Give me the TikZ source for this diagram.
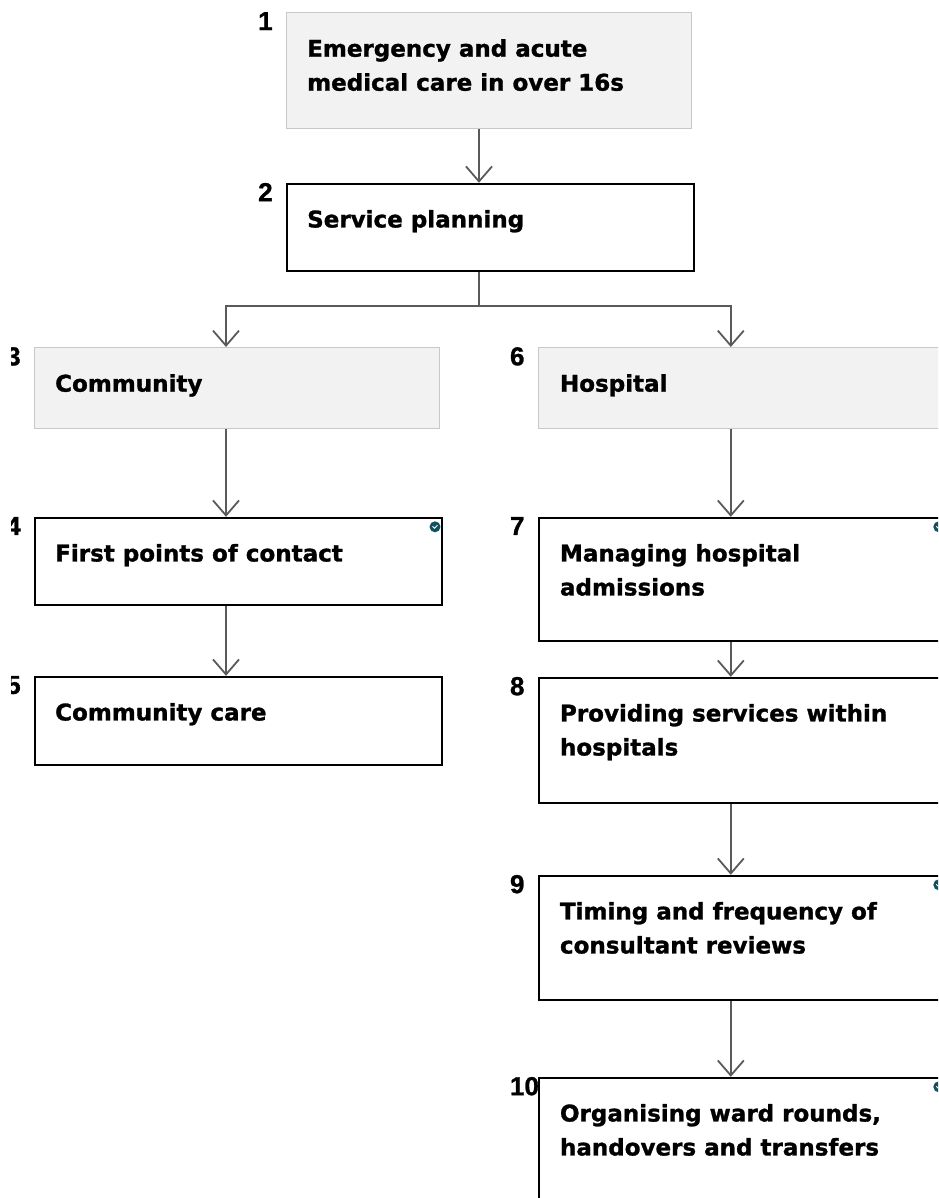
\documentclass[tikz,border=0pt]{standalone}
\usepackage{fontspec}
\setmainfont{DejaVu Sans}[BoldFeatures={FakeBold=1.2}]
\newfontfamily\numfont{Liberation Sans}[BoldFeatures={FakeBold=1}]
\usetikzlibrary{arrows.meta,positioning}

\definecolor{boxgrey}{HTML}{F2F2F2}
\definecolor{edgegrey}{HTML}{C8C8C8}
\definecolor{arrgrey}{HTML}{5A5A5A}
\definecolor{pincol}{HTML}{0E5160}

\begin{document}
\begin{tikzpicture}[x=1pt, y=1pt, font=\fontsize{23}{34}\selectfont\bfseries, >={Straight Barb[length=15pt,width=26pt]}]
\tikzset{
  box/.style    ={rectangle, draw=black, line width=2pt, fill=white, minimum width=407pt, inner sep=0pt},
  headbox/.style={rectangle, draw=edgegrey, line width=0.8pt, fill=boxgrey, minimum width=405pt, inner sep=0pt},
  txt/.style    ={align=left, inner sep=0pt},
  num/.style    ={inner sep=0pt, font=\numfont\fontsize{26}{30}\selectfont\bfseries},
  conn/.style   ={draw=arrgrey, line width=1.8pt},
  pindot/.style ={circle, fill=pincol, minimum size=11pt, inner sep=0pt,
                  path picture={\draw[white, line width=0.8pt] ([shift={(-2.5,0.5)}]path picture bounding box.center) -- ++(2,-2) -- ++(3,3);}}
}
\useasboundingbox (0,0) rectangle (938,-1198);
\clip (11,0) rectangle (938,-1198);

% boxes
\node[headbox, minimum height=116pt, anchor=north west] (b1) at (286,-12) {};
\node[box, minimum height=87pt, below=54pt of b1.south west, anchor=north west] (b2) {};
\node[headbox, minimum height=81pt, anchor=north west] (b3) at (34,-347) {};
\node[headbox, minimum height=81pt, right=98pt of b3.north east, anchor=north west] (b6) {};
\node[box, minimum height=87pt, below=88pt of b3.south west, anchor=north west] (b4) {};
\node[box, minimum height=88pt, below=70pt of b4.south west, anchor=north west] (b5) {};
\node[box, minimum height=123pt, below=88pt of b6.south west, anchor=north west] (b7) {};
\node[box, minimum height=125pt, below=35pt of b7.south west, anchor=north west] (b8) {};
\node[box, minimum height=124pt, below=71pt of b8.south west, anchor=north west] (b9) {};
\node[box, minimum height=124pt, below=76pt of b9.south west, anchor=north west] (b10) {};

% texts
\node[txt, below right=27pt and 21pt of b1.north west] (t1) {Emergency and acute\\medical care in over 16s};
\node[txt, below right=27pt and 21pt of b2.north west] (t2) {Service planning};
\node[txt, below right=27pt and 21pt of b3.north west] (t3) {Community};
\node[txt, below right=27pt and 21pt of b4.north west] (t4) {First points of contact};
\node[txt, below right=27pt and 21pt of b5.north west] (t5) {Community care};
\node[txt, below right=27pt and 22pt of b6.north west] (t6) {Hospital};
\node[txt, below right=27pt and 22pt of b7.north west] (t7) {Managing hospital\\admissions};
\node[txt, below right=27pt and 22pt of b8.north west] (t8) {Providing services within\\hospitals};
\node[txt, below right=27pt and 22pt of b9.north west] (t9) {Timing and frequency of\\consultant reviews};
\node[txt, below right=27pt and 22pt of b10.north west] (t10) {Organising ward rounds,\\handovers and transfers};

% numbers
\node[num, left=28pt of b1.north west, anchor=north west] (n1) {1};
\node[num, left=28pt of b2.north west, anchor=north west] (n2) {2};
\node[num, left=28pt of b3.north west, anchor=north west] (n3) {3};
\node[num, left=28pt of b4.north west, anchor=north west] (n4) {4};
\node[num, left=28pt of b5.north west, anchor=north west] (n5) {5};
\node[num, left=28pt of b6.north west, anchor=north west] (n6) {6};
\node[num, left=28pt of b7.north west, anchor=north west] (n7) {7};
\node[num, left=28pt of b8.north west, anchor=north west] (n8) {8};
\node[num, left=28pt of b9.north west, anchor=north west] (n9) {9};
\node[num, left=28pt of b10.north west, anchor=north west] (n10) {10};

% pins
\node[pindot] (p4) at ([xshift=-8pt,yshift=-10pt]b4.north east) {};
\node[pindot] (p7) at ([xshift=-8pt,yshift=-10pt]b7.north east) {};
\node[pindot] (p9) at ([xshift=-8pt,yshift=-10pt]b9.north east) {};
\node[pindot] (p10) at ([xshift=-8pt,yshift=-10pt]b10.north east) {};

% connectors
\coordinate (split) at ([xshift=193pt,yshift=-34pt]b2.south west);
\draw[conn,->] ([xshift=193pt]b1.south west) -- ([xshift=193pt]b2.north west);
\draw[conn] ([xshift=193pt]b2.south west) -- (split);
\draw[conn,->] (split) -| ([xshift=192pt]b3.north west);
\draw[conn,->] (split) -| ([xshift=193pt]b6.north west);
\draw[conn,->] ([xshift=192pt]b3.south west) -- ([xshift=192pt]b4.north west);
\draw[conn,->] ([xshift=192pt]b4.south west) -- ([xshift=192pt]b5.north west);
\draw[conn,->] ([xshift=193pt]b6.south west) -- ([xshift=193pt]b7.north west);
\draw[conn,->] ([xshift=193pt]b7.south west) -- ([xshift=193pt]b8.north west);
\draw[conn,->] ([xshift=193pt]b8.south west) -- ([xshift=193pt]b9.north west);
\draw[conn,->] ([xshift=193pt]b9.south west) -- ([xshift=193pt]b10.north west);
\end{tikzpicture}
\end{document}
